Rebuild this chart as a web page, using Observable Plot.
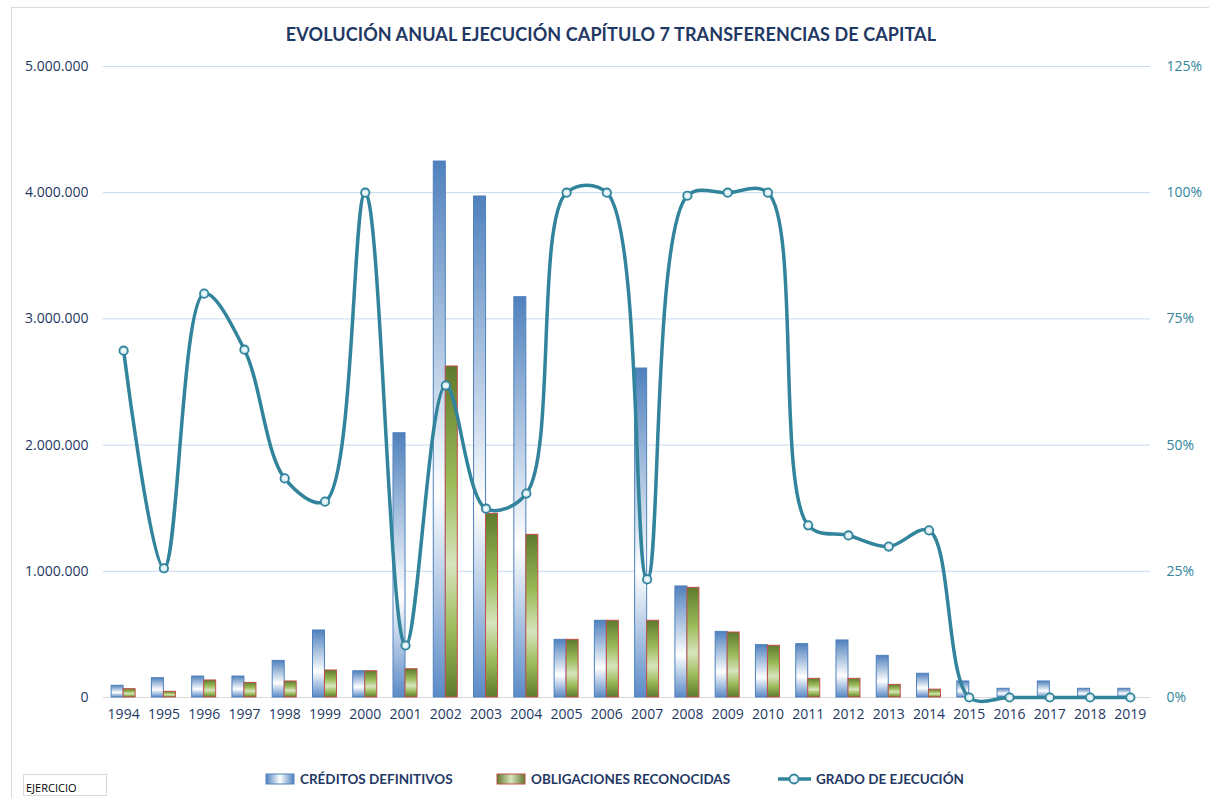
<!DOCTYPE html>
<html>
<head>
<meta charset="utf-8">
<script src="https://cdn.jsdelivr.net/npm/d3@7"></script>
<script src="https://cdn.jsdelivr.net/npm/@observablehq/plot@0.6"></script>
<style>
  html, body { margin: 0; padding: 0; background: #fff; }
  #wrap { position: relative; width: 1209px; height: 798px; overflow: hidden; font-family: Lato, "Open Sans", sans-serif; }
  #frame { position: absolute; left: 11px; top: 7px; width: 1200px; height: 800px; border-left: 1px solid #d9d9d9; border-top: 1px solid #d9d9d9; }
  #title { position: absolute; left: 0; width: 1222px; top: 23px; text-align: center; font-weight: 700; font-size: 18px; color: #1f3864; letter-spacing: 0.1px; }
  #chart { position: absolute; left: 0; top: 0; }
  #legend { position: absolute; top: 769px; left: 0; width: 1209px; height: 20px; font-weight: 700; font-size: 13.5px; color: #1f3864; }
  .item { position: absolute; top: 0; display: flex; align-items: center; height: 20px; white-space: nowrap; }
  #ejercicio { position: absolute; left: 23px; top: 774px; width: 84px; height: 22px; border: 1px solid #d9d9d9; font-size: 11px; color: #000; box-sizing: border-box; padding: 5px 0 0 2px; font-family: "Open Sans", sans-serif; }
</style>
</head>
<body>
<div id="wrap">
  <div id="frame"></div>
  <div id="chart"></div>
  <div id="title">EVOLUCIÓN ANUAL EJECUCIÓN CAPÍTULO 7 TRANSFERENCIAS DE CAPITAL</div>
  <div id="legend"></div>
  <div id="ejercicio">EJERCICIO</div>
</div>
<script>
const years = ["1994","1995","1996","1997","1998","1999","2000","2001","2002","2003","2004","2005","2006","2007","2008","2009","2010","2011","2012","2013","2014","2015","2016","2017","2018","2019"];
const creditos = [93000,153000,166000,166000,290000,531000,208000,2094000,4247000,3970000,3172000,457000,608000,2607000,880000,520000,415000,423000,452000,330000,188000,127000,69000,127000,69000,69000];
const obligaciones = [66000,45000,135000,116000,127000,214000,208000,224000,2623000,1456000,1289000,457000,608000,608000,869000,515000,410000,148000,148000,100000,62000,0,0,0,0,0];
const grado = [68.7,25.6,80.0,68.9,43.4,38.8,100,10.3,61.8,37.4,40.4,100,100,23.4,99.4,100,100,34.1,32.1,29.9,33.1,0,0,0,0,0];
const leftTicks = [0,1000000,2000000,3000000,4000000,5000000];
const rightTicks = [0,25,50,75,100,125];
const seriesNames = ["CRÉDITOS DEFINITIVOS","OBLIGACIONES RECONOCIDAS","GRADO DE EJECUCIÓN"];

const YMAX = 5000000, PMAX = 125;
const rows = years.map((y, i) => ({year: y, cred: creditos[i], obl: obligaciones[i], pct: grado[i], pctY: grado[i] / PMAX * YMAX}));

const fmtThousands = v => v === 0 ? "0" : d3.format(",")(v).replace(/,/g, ".");
const bw = (1150 - 103) / years.length;
const barW = 12;

const chart = Plot.plot({
  width: 1209,
  height: 740,
  marginLeft: 103,
  marginRight: 59,
  marginTop: 66,
  marginBottom: 43,
  style: {fontFamily: "'Open Sans', Lato, sans-serif", fontSize: "13.5px", background: "transparent"},
  x: {type: "band", domain: years, padding: 0, round: false, label: null},
  y: {domain: [0, YMAX], label: null},
  marks: [
    Plot.ruleY(leftTicks.filter(d => d > 0), {stroke: "#c6d9f0", strokeWidth: 1}),
    Plot.ruleY([0], {stroke: "#d9d9d9", strokeWidth: 1}),
    Plot.barY(rows, {x: "year", y: "cred", fill: "url(#gBlue)", stroke: "#4f81bd", strokeWidth: 1,
      insetLeft: bw / 2 - barW, insetRight: bw / 2}),
    Plot.barY(rows, {x: "year", y: "obl", fill: "url(#gGreen)", stroke: "#c0504d", strokeWidth: 1,
      insetLeft: bw / 2, insetRight: bw / 2 - barW}),
    Plot.line(rows, {x: "year", y: "pctY", stroke: "#31849b", strokeWidth: 3.5, curve: "catmull-rom"}),
    Plot.dot(rows, {x: "year", y: "pctY", r: 4.2, fill: "url(#gDot)", stroke: "#31849b", strokeWidth: 1.8}),
    Plot.axisX({tickSize: 0, tickPadding: 12, fill: "#1f3864", fontSize: 14}),
    Plot.axisY({anchor: "left", ticks: leftTicks, tickFormat: fmtThousands, tickSize: 0, tickPadding: 15, fill: "#1f3864", fontSize: 14}),
    Plot.axisY({anchor: "right", ticks: rightTicks.map(p => p / PMAX * YMAX), tickFormat: v => Math.round(v / YMAX * PMAX) + "%", tickSize: 0, tickPadding: 16, fill: "#31859c", fontSize: 14})
  ]
});

const svg = d3.select(chart);
const defs = svg.insert("defs", ":first-child");
function grad(id, stops, x2 = "0", y2 = "1") {
  const g = defs.append("linearGradient").attr("id", id).attr("x1", 0).attr("y1", 0).attr("x2", x2).attr("y2", y2);
  stops.forEach(([o, c]) => g.append("stop").attr("offset", o).attr("stop-color", c));
}
grad("gBlue", [["0%", "#4f81bd"], ["62%", "#ffffff"], ["100%", "#5a8ac6"]]);
grad("gGreen", [["0%", "#5f7a2d"], ["35%", "#9bbb59"], ["60%", "#d7e4bd"], ["80%", "#9bbb59"], ["100%", "#5f7a2d"]]);
const rg = defs.append("radialGradient").attr("id", "gDot");
rg.append("stop").attr("offset", "0%").attr("stop-color", "#ffffff");
rg.append("stop").attr("offset", "100%").attr("stop-color", "#bfe0e8");
document.getElementById("chart").appendChild(chart);

// legend
const legend = d3.select("#legend");
const items = [
  {x: 265, name: seriesNames[0], kind: "blue"},
  {x: 496, name: seriesNames[1], kind: "green"},
  {x: 777, name: seriesNames[2], kind: "line"}
];
items.forEach(it => {
  const div = legend.append("div").attr("class", "item").style("left", it.x + "px");
  const s = div.append("svg").attr("width", it.kind === "line" ? 36 : 32).attr("height", 14).style("margin-right", "3px");
  if (it.kind === "blue") {
    const d = s.append("defs").append("linearGradient").attr("id", "lgB").attr("x1", 0).attr("x2", 1).attr("y1", 0).attr("y2", 0);
    d.append("stop").attr("offset", "0%").attr("stop-color", "#4f81bd");
    d.append("stop").attr("offset", "50%").attr("stop-color", "#ffffff");
    d.append("stop").attr("offset", "100%").attr("stop-color", "#4f81bd");
    s.append("rect").attr("x", 1).attr("y", 2).attr("width", 28).attr("height", 10).attr("fill", "url(#lgB)").attr("stroke", "#4f81bd");
  } else if (it.kind === "green") {
    const d = s.append("defs").append("linearGradient").attr("id", "lgG").attr("x1", 0).attr("x2", 1).attr("y1", 0).attr("y2", 0);
    d.append("stop").attr("offset", "0%").attr("stop-color", "#5f7a2d");
    d.append("stop").attr("offset", "50%").attr("stop-color", "#d7e4bd");
    d.append("stop").attr("offset", "100%").attr("stop-color", "#5f7a2d");
    s.append("rect").attr("x", 1).attr("y", 2).attr("width", 28).attr("height", 10).attr("fill", "url(#lgG)").attr("stroke", "#c0504d");
  } else {
    s.append("line").attr("x1", 1).attr("x2", 34).attr("y1", 7).attr("y2", 7).attr("stroke", "#31849b").attr("stroke-width", 3.5);
    s.append("circle").attr("cx", 17).attr("cy", 7).attr("r", 4.5).attr("fill", "#e8f4f7").attr("stroke", "#31849b").attr("stroke-width", 1.8);
  }
  div.append("span").text(it.name);
});
</script>
</body>
</html>
